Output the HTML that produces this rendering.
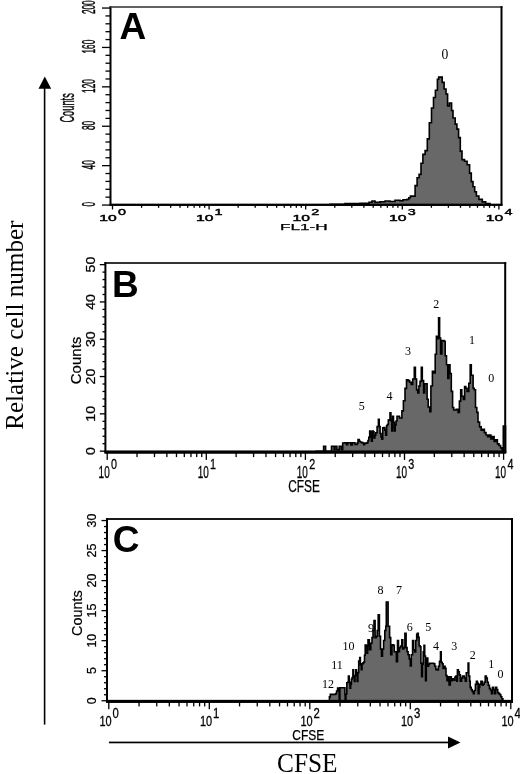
<!DOCTYPE html>
<html><head><meta charset="utf-8"><style>
html,body{margin:0;padding:0;background:#fff;}
svg{display:block;will-change:transform;}
</style></head><body>
<svg width="520" height="774" viewBox="0 0 520 774">
<rect width="520" height="774" fill="#fff"/>
<rect x="43.80" y="88.00" width="1.60" height="636.60" fill="#000"/>
<polygon points="38.5,88.8 51.2,88.8 44.8,76.6" fill="#000"/>
<rect x="108.90" y="741.60" width="341.10" height="1.70" fill="#000"/>
<polygon points="448,736.6 448,748.6 460.5,742.6" fill="#000"/>
<text x="23.10" y="429.80" font-size="25.2" font-family='"Liberation Serif", serif' font-weight="normal" text-anchor="start" fill="#000" textLength="209.30" lengthAdjust="spacingAndGlyphs" transform="rotate(-90 23.10 429.80)" >Relative cell number</text>
<text x="277.00" y="771.80" font-size="26.6" font-family='"Liberation Serif", serif' font-weight="normal" text-anchor="start" fill="#000" textLength="60.50" lengthAdjust="spacingAndGlyphs" >CFSE</text>
<path d="M330.00,204.80 L330.00,204.30 L345.00,204.30 L345.00,203.60 L360.00,203.60 L360.00,203.30 L369.00,203.30 L369.00,202.30 L372.00,202.30 L372.00,201.00 L375.00,201.00 L375.00,202.30 L380.00,202.30 L380.00,201.80 L385.00,201.80 L385.00,201.00 L390.00,201.00 L390.00,201.50 L395.00,201.50 L395.00,200.20 L400.00,200.20 L400.00,200.80 L403.00,200.80 L403.00,199.80 L407.10,199.80 L407.10,199.40 L408.80,199.40 L408.80,197.80 L410.40,197.80 L410.40,196.10 L415.10,196.10 L415.10,185.60 L417.10,185.60 L417.10,177.80 L419.10,177.80 L419.10,174.40 L421.00,174.40 L421.00,163.30 L422.90,163.30 L422.90,154.40 L425.10,154.40 L425.10,150.60 L427.30,150.60 L427.30,138.90 L429.30,138.90 L429.30,122.80 L431.50,122.80 L431.50,108.00 L433.50,108.00 L433.50,97.50 L435.40,97.50 L435.40,90.20 L437.40,90.20 L437.40,79.30 L438.70,79.30 L438.70,77.10 L442.20,77.10 L442.20,82.40 L444.10,82.40 L444.10,89.00 L446.00,89.00 L446.00,94.00 L447.60,94.00 L447.60,106.00 L449.40,106.00 L449.40,103.00 L451.60,103.00 L451.60,110.50 L453.00,110.50 L453.00,118.00 L455.20,118.00 L455.20,124.10 L456.90,124.10 L456.90,129.10 L458.60,129.10 L458.60,137.60 L460.30,137.60 L460.30,151.10 L462.00,151.10 L462.00,159.60 L464.50,159.60 L464.50,161.30 L467.10,161.30 L467.10,164.70 L469.60,164.70 L469.60,173.10 L471.30,173.10 L471.30,181.60 L473.00,181.60 L473.00,186.70 L474.70,186.70 L474.70,191.80 L476.40,191.80 L476.40,196.00 L478.90,196.00 L478.90,199.40 L482.30,199.40 L482.30,201.90 L485.70,201.90 L485.70,203.60 L490.00,203.60 L490.00,204.50 L490.00,204.80 Z" fill="#686868" stroke="#000" stroke-width="1.6" stroke-linejoin="miter"/>
<rect x="109.50" y="6.20" width="2.00" height="199.40" fill="#000"/>
<rect x="109.50" y="6.20" width="393.00" height="1.60" fill="#3c3c3c"/>
<rect x="500.50" y="6.20" width="2.00" height="199.40" fill="#000"/>
<rect x="109.50" y="203.65" width="393.00" height="2.30" fill="#000"/>
<rect x="102.00" y="204.40" width="8.50" height="1.30" fill="#000"/>
<text x="94.80" y="204.20" font-size="18.5" font-family='"Liberation Sans", sans-serif' font-weight="normal" text-anchor="middle" fill="#000" stroke="#000" stroke-width="0.45" textLength="4.60" lengthAdjust="spacingAndGlyphs" transform="rotate(-90 94.80 204.20)" >0</text>
<rect x="105.50" y="196.52" width="5.00" height="1.30" fill="#000"/>
<rect x="105.50" y="188.64" width="5.00" height="1.30" fill="#000"/>
<rect x="105.50" y="180.76" width="5.00" height="1.30" fill="#000"/>
<rect x="105.50" y="172.88" width="5.00" height="1.30" fill="#000"/>
<rect x="102.00" y="165.00" width="8.50" height="1.30" fill="#000"/>
<text x="94.80" y="164.80" font-size="18.5" font-family='"Liberation Sans", sans-serif' font-weight="normal" text-anchor="middle" fill="#000" stroke="#000" stroke-width="0.45" textLength="9.20" lengthAdjust="spacingAndGlyphs" transform="rotate(-90 94.80 164.80)" >40</text>
<rect x="105.50" y="157.12" width="5.00" height="1.30" fill="#000"/>
<rect x="105.50" y="149.24" width="5.00" height="1.30" fill="#000"/>
<rect x="105.50" y="141.36" width="5.00" height="1.30" fill="#000"/>
<rect x="105.50" y="133.48" width="5.00" height="1.30" fill="#000"/>
<rect x="102.00" y="125.60" width="8.50" height="1.30" fill="#000"/>
<text x="94.80" y="125.40" font-size="18.5" font-family='"Liberation Sans", sans-serif' font-weight="normal" text-anchor="middle" fill="#000" stroke="#000" stroke-width="0.45" textLength="9.20" lengthAdjust="spacingAndGlyphs" transform="rotate(-90 94.80 125.40)" >80</text>
<rect x="105.50" y="117.72" width="5.00" height="1.30" fill="#000"/>
<rect x="105.50" y="109.84" width="5.00" height="1.30" fill="#000"/>
<rect x="105.50" y="101.96" width="5.00" height="1.30" fill="#000"/>
<rect x="105.50" y="94.08" width="5.00" height="1.30" fill="#000"/>
<rect x="102.00" y="86.20" width="8.50" height="1.30" fill="#000"/>
<text x="94.80" y="86.00" font-size="18.5" font-family='"Liberation Sans", sans-serif' font-weight="normal" text-anchor="middle" fill="#000" stroke="#000" stroke-width="0.45" textLength="13.80" lengthAdjust="spacingAndGlyphs" transform="rotate(-90 94.80 86.00)" >120</text>
<rect x="105.50" y="78.32" width="5.00" height="1.30" fill="#000"/>
<rect x="105.50" y="70.44" width="5.00" height="1.30" fill="#000"/>
<rect x="105.50" y="62.56" width="5.00" height="1.30" fill="#000"/>
<rect x="105.50" y="54.68" width="5.00" height="1.30" fill="#000"/>
<rect x="102.00" y="46.80" width="8.50" height="1.30" fill="#000"/>
<text x="94.80" y="46.60" font-size="18.5" font-family='"Liberation Sans", sans-serif' font-weight="normal" text-anchor="middle" fill="#000" stroke="#000" stroke-width="0.45" textLength="13.80" lengthAdjust="spacingAndGlyphs" transform="rotate(-90 94.80 46.60)" >160</text>
<rect x="105.50" y="38.92" width="5.00" height="1.30" fill="#000"/>
<rect x="105.50" y="31.04" width="5.00" height="1.30" fill="#000"/>
<rect x="105.50" y="23.16" width="5.00" height="1.30" fill="#000"/>
<rect x="105.50" y="15.28" width="5.00" height="1.30" fill="#000"/>
<rect x="102.00" y="7.40" width="8.50" height="1.30" fill="#000"/>
<text x="94.80" y="7.20" font-size="18.5" font-family='"Liberation Sans", sans-serif' font-weight="normal" text-anchor="middle" fill="#000" stroke="#000" stroke-width="0.45" textLength="13.80" lengthAdjust="spacingAndGlyphs" transform="rotate(-90 94.80 7.20)" >200</text>
<text x="74.50" y="122.60" font-size="20" font-family='"Liberation Sans", sans-serif' font-weight="normal" text-anchor="start" fill="#000" stroke="#000" stroke-width="0.4" textLength="29.40" lengthAdjust="spacingAndGlyphs" transform="rotate(-90 74.50 122.60)" >Counts</text>
<rect x="111.85" y="204.80" width="1.30" height="4.70" fill="#000"/>
<rect x="140.93" y="204.80" width="1.30" height="3.00" fill="#000"/>
<rect x="157.94" y="204.80" width="1.30" height="3.00" fill="#000"/>
<rect x="170.01" y="204.80" width="1.30" height="3.00" fill="#000"/>
<rect x="179.37" y="204.80" width="1.30" height="3.00" fill="#000"/>
<rect x="187.02" y="204.80" width="1.30" height="3.00" fill="#000"/>
<rect x="193.49" y="204.80" width="1.30" height="3.00" fill="#000"/>
<rect x="199.09" y="204.80" width="1.30" height="3.00" fill="#000"/>
<rect x="204.03" y="204.80" width="1.30" height="3.00" fill="#000"/>
<text x="99.30" y="220.70" font-size="9.6" font-family='"Liberation Sans", sans-serif' font-weight="normal" text-anchor="start" fill="#000" stroke="#000" stroke-width="0.45" textLength="17.50" lengthAdjust="spacingAndGlyphs" >10</text>
<text x="118.00" y="215.30" font-size="9.4" font-family='"Liberation Sans", sans-serif' font-weight="normal" text-anchor="start" fill="#000" stroke="#000" stroke-width="0.45" textLength="8.00" lengthAdjust="spacingAndGlyphs" >0</text>
<rect x="208.45" y="204.80" width="1.30" height="4.70" fill="#000"/>
<rect x="237.53" y="204.80" width="1.30" height="3.00" fill="#000"/>
<rect x="254.54" y="204.80" width="1.30" height="3.00" fill="#000"/>
<rect x="266.61" y="204.80" width="1.30" height="3.00" fill="#000"/>
<rect x="275.97" y="204.80" width="1.30" height="3.00" fill="#000"/>
<rect x="283.62" y="204.80" width="1.30" height="3.00" fill="#000"/>
<rect x="290.09" y="204.80" width="1.30" height="3.00" fill="#000"/>
<rect x="295.69" y="204.80" width="1.30" height="3.00" fill="#000"/>
<rect x="300.63" y="204.80" width="1.30" height="3.00" fill="#000"/>
<text x="195.90" y="220.70" font-size="9.6" font-family='"Liberation Sans", sans-serif' font-weight="normal" text-anchor="start" fill="#000" stroke="#000" stroke-width="0.45" textLength="17.50" lengthAdjust="spacingAndGlyphs" >10</text>
<text x="214.60" y="215.30" font-size="9.4" font-family='"Liberation Sans", sans-serif' font-weight="normal" text-anchor="start" fill="#000" stroke="#000" stroke-width="0.45" textLength="8.00" lengthAdjust="spacingAndGlyphs" >1</text>
<rect x="305.05" y="204.80" width="1.30" height="4.70" fill="#000"/>
<rect x="334.13" y="204.80" width="1.30" height="3.00" fill="#000"/>
<rect x="351.14" y="204.80" width="1.30" height="3.00" fill="#000"/>
<rect x="363.21" y="204.80" width="1.30" height="3.00" fill="#000"/>
<rect x="372.57" y="204.80" width="1.30" height="3.00" fill="#000"/>
<rect x="380.22" y="204.80" width="1.30" height="3.00" fill="#000"/>
<rect x="386.69" y="204.80" width="1.30" height="3.00" fill="#000"/>
<rect x="392.29" y="204.80" width="1.30" height="3.00" fill="#000"/>
<rect x="397.23" y="204.80" width="1.30" height="3.00" fill="#000"/>
<text x="292.50" y="220.70" font-size="9.6" font-family='"Liberation Sans", sans-serif' font-weight="normal" text-anchor="start" fill="#000" stroke="#000" stroke-width="0.45" textLength="17.50" lengthAdjust="spacingAndGlyphs" >10</text>
<text x="311.20" y="215.30" font-size="9.4" font-family='"Liberation Sans", sans-serif' font-weight="normal" text-anchor="start" fill="#000" stroke="#000" stroke-width="0.45" textLength="8.00" lengthAdjust="spacingAndGlyphs" >2</text>
<rect x="401.65" y="204.80" width="1.30" height="4.70" fill="#000"/>
<rect x="430.73" y="204.80" width="1.30" height="3.00" fill="#000"/>
<rect x="447.74" y="204.80" width="1.30" height="3.00" fill="#000"/>
<rect x="459.81" y="204.80" width="1.30" height="3.00" fill="#000"/>
<rect x="469.17" y="204.80" width="1.30" height="3.00" fill="#000"/>
<rect x="476.82" y="204.80" width="1.30" height="3.00" fill="#000"/>
<rect x="483.29" y="204.80" width="1.30" height="3.00" fill="#000"/>
<rect x="488.89" y="204.80" width="1.30" height="3.00" fill="#000"/>
<rect x="493.83" y="204.80" width="1.30" height="3.00" fill="#000"/>
<text x="389.10" y="220.70" font-size="9.6" font-family='"Liberation Sans", sans-serif' font-weight="normal" text-anchor="start" fill="#000" stroke="#000" stroke-width="0.45" textLength="17.50" lengthAdjust="spacingAndGlyphs" >10</text>
<text x="407.80" y="215.30" font-size="9.4" font-family='"Liberation Sans", sans-serif' font-weight="normal" text-anchor="start" fill="#000" stroke="#000" stroke-width="0.45" textLength="8.00" lengthAdjust="spacingAndGlyphs" >3</text>
<rect x="498.25" y="204.80" width="1.30" height="4.70" fill="#000"/>
<text x="485.70" y="220.70" font-size="9.6" font-family='"Liberation Sans", sans-serif' font-weight="normal" text-anchor="start" fill="#000" stroke="#000" stroke-width="0.45" textLength="17.50" lengthAdjust="spacingAndGlyphs" >10</text>
<text x="504.40" y="215.30" font-size="9.4" font-family='"Liberation Sans", sans-serif' font-weight="normal" text-anchor="start" fill="#000" stroke="#000" stroke-width="0.45" textLength="8.00" lengthAdjust="spacingAndGlyphs" >4</text>
<text x="280.00" y="230.40" font-size="8.7" font-family='"Liberation Sans", sans-serif' font-weight="normal" text-anchor="start" fill="#000" stroke="#000" stroke-width="0.25" textLength="47.70" lengthAdjust="spacingAndGlyphs" >FL1-H</text>
<text x="119.40" y="39.20" font-size="37" font-family='"Liberation Sans", sans-serif' font-weight="bold" text-anchor="start" fill="#000" >A</text>
<text x="445.00" y="58.60" font-size="13.6" font-family='"Liberation Serif", serif' font-weight="normal" text-anchor="middle" fill="#000" >0</text>
<path d="M316.00,452.10 L316.00,451.20 L323.60,451.20 L323.60,446.20 L325.60,446.20 L325.60,451.20 L331.50,451.20 L331.50,446.20 L334.20,446.20 L334.20,449.60 L335.00,449.60 L335.00,446.20 L336.90,446.20 L336.90,449.60 L339.20,449.60 L339.20,446.20 L341.20,446.20 L341.20,449.60 L342.70,449.60 L342.70,443.00 L344.60,443.00 L344.60,442.70 L346.50,442.70 L346.50,444.80 L347.70,444.80 L347.70,442.70 L350.80,442.70 L350.80,445.00 L352.30,445.00 L352.30,442.70 L355.00,442.70 L355.00,444.40 L357.20,444.40 L357.20,443.10 L358.00,443.10 L358.00,439.60 L359.30,439.60 L359.30,441.30 L360.20,441.30 L360.20,442.00 L361.50,442.00 L361.50,442.60 L362.80,442.60 L362.80,443.00 L363.70,443.00 L363.70,444.80 L364.50,444.80 L364.50,443.50 L365.40,443.50 L365.40,443.10 L367.10,443.10 L367.10,442.60 L368.00,442.60 L368.00,440.50 L368.80,440.50 L368.80,437.40 L369.70,437.40 L369.70,431.00 L370.60,431.00 L370.60,433.50 L371.40,433.50 L371.40,441.30 L372.30,441.30 L372.30,431.00 L373.20,431.00 L373.20,431.80 L374.00,431.80 L374.00,437.90 L374.90,437.90 L374.90,435.30 L375.80,435.30 L375.80,432.70 L377.10,432.70 L377.10,426.60 L378.40,426.60 L378.40,419.30 L379.20,419.30 L379.20,426.60 L380.10,426.60 L380.10,433.50 L381.00,433.50 L381.00,437.00 L381.80,437.00 L381.80,439.20 L382.70,439.20 L382.70,427.90 L384.00,427.90 L384.00,427.50 L384.80,427.50 L384.80,430.10 L385.70,430.10 L385.70,435.30 L386.60,435.30 L386.60,425.80 L387.40,425.80 L387.40,424.50 L388.30,424.50 L388.30,420.10 L389.20,420.10 L389.20,419.70 L390.00,419.70 L390.00,412.80 L390.90,412.80 L390.90,420.60 L391.80,420.60 L391.80,431.00 L392.60,431.00 L392.60,416.20 L393.50,416.20 L393.50,422.30 L394.40,422.30 L394.40,431.00 L395.20,431.00 L395.20,424.90 L396.10,424.90 L396.10,421.00 L397.00,421.00 L397.00,416.20 L399.50,416.20 L399.50,418.00 L401.90,418.00 L401.90,410.90 L403.40,410.90 L403.40,400.80 L405.00,400.80 L405.00,388.40 L406.50,388.40 L406.50,379.80 L408.10,379.80 L408.10,380.60 L409.60,380.60 L409.60,382.20 L411.20,382.20 L411.20,384.50 L412.70,384.50 L412.70,379.00 L414.30,379.00 L414.30,367.40 L415.40,367.40 L415.40,379.00 L416.60,379.00 L416.60,389.90 L417.80,389.90 L417.80,393.00 L418.90,393.00 L418.90,386.00 L420.00,386.00 L420.00,381.40 L421.30,381.40 L421.30,367.40 L422.30,367.40 L422.30,380.60 L423.60,380.60 L423.60,393.00 L424.70,393.00 L424.70,383.70 L425.90,383.70 L425.90,383.70 L427.10,383.70 L427.10,399.20 L428.20,399.20 L428.20,407.00 L429.80,407.00 L429.80,411.60 L430.90,411.60 L430.90,386.00 L432.40,386.00 L432.40,371.30 L434.00,371.30 L434.00,372.90 L435.20,372.90 L435.20,354.30 L436.40,354.30 L436.40,336.40 L437.50,336.40 L437.50,338.80 L438.60,338.80 L438.60,317.80 L439.60,317.80 L439.60,338.00 L440.60,338.00 L440.60,354.00 L441.90,354.00 L441.90,340.50 L444.00,340.50 L444.00,341.30 L445.20,341.30 L445.20,355.80 L446.50,355.80 L446.50,364.70 L447.80,364.70 L447.80,378.50 L448.90,378.50 L448.90,364.70 L450.00,364.70 L450.00,373.60 L451.30,373.60 L451.30,391.40 L452.60,391.40 L452.60,407.50 L453.70,407.50 L453.70,410.00 L456.20,410.00 L456.20,409.20 L458.10,409.20 L458.10,412.40 L459.40,412.40 L459.40,401.10 L460.70,401.10 L460.70,389.80 L461.80,389.80 L461.80,396.20 L463.40,396.20 L463.40,399.50 L464.60,399.50 L464.60,386.50 L465.80,386.50 L465.80,388.20 L467.10,388.20 L467.10,391.40 L468.80,391.40 L468.80,383.30 L470.20,383.30 L470.20,364.70 L471.30,364.70 L471.30,375.20 L473.10,375.20 L473.10,388.20 L474.20,388.20 L474.20,389.80 L475.50,389.80 L475.50,407.50 L476.80,407.50 L476.80,412.40 L478.00,412.40 L478.00,422.10 L479.60,422.10 L479.60,426.90 L481.20,426.90 L481.20,430.20 L482.80,430.20 L482.80,429.40 L484.40,429.40 L484.40,432.60 L486.00,432.60 L486.00,435.00 L487.70,435.00 L487.70,436.60 L489.30,436.60 L489.30,435.00 L490.90,435.00 L490.90,439.00 L492.50,439.00 L492.50,436.60 L494.10,436.60 L494.10,441.50 L495.70,441.50 L495.70,439.90 L497.40,439.90 L497.40,443.90 L499.00,443.90 L499.00,445.50 L500.60,445.50 L500.60,447.90 L502.20,447.90 L502.20,451.20 L503.30,451.20 L503.30,426.10 L505.50,426.10 L505.50,426.10 L505.50,452.10 Z" fill="#686868" stroke="#000" stroke-width="1.6" stroke-linejoin="miter"/>
<rect x="104.40" y="262.20" width="2.00" height="190.70" fill="#000"/>
<rect x="104.40" y="262.20" width="401.80" height="1.60" fill="#000"/>
<rect x="504.20" y="262.20" width="2.00" height="190.70" fill="#000"/>
<rect x="104.40" y="450.45" width="401.80" height="3.30" fill="#000"/>
<rect x="99.80" y="450.50" width="5.60" height="1.30" fill="#000"/>
<text x="94.80" y="451.10" font-size="13.3" font-family='"Liberation Sans", sans-serif' font-weight="normal" text-anchor="middle" fill="#000" stroke="#000" stroke-width="0.25" textLength="7.90" lengthAdjust="spacingAndGlyphs" transform="rotate(-90 94.80 451.10)" >0</text>
<rect x="102.50" y="443.04" width="2.90" height="1.30" fill="#000"/>
<rect x="102.50" y="435.58" width="2.90" height="1.30" fill="#000"/>
<rect x="102.50" y="428.12" width="2.90" height="1.30" fill="#000"/>
<rect x="102.50" y="420.66" width="2.90" height="1.30" fill="#000"/>
<rect x="99.80" y="413.20" width="5.60" height="1.30" fill="#000"/>
<text x="94.80" y="413.80" font-size="13.3" font-family='"Liberation Sans", sans-serif' font-weight="normal" text-anchor="middle" fill="#000" stroke="#000" stroke-width="0.25" textLength="15.80" lengthAdjust="spacingAndGlyphs" transform="rotate(-90 94.80 413.80)" >10</text>
<rect x="102.50" y="405.74" width="2.90" height="1.30" fill="#000"/>
<rect x="102.50" y="398.28" width="2.90" height="1.30" fill="#000"/>
<rect x="102.50" y="390.82" width="2.90" height="1.30" fill="#000"/>
<rect x="102.50" y="383.36" width="2.90" height="1.30" fill="#000"/>
<rect x="99.80" y="375.90" width="5.60" height="1.30" fill="#000"/>
<text x="94.80" y="376.50" font-size="13.3" font-family='"Liberation Sans", sans-serif' font-weight="normal" text-anchor="middle" fill="#000" stroke="#000" stroke-width="0.25" textLength="15.80" lengthAdjust="spacingAndGlyphs" transform="rotate(-90 94.80 376.50)" >20</text>
<rect x="102.50" y="368.44" width="2.90" height="1.30" fill="#000"/>
<rect x="102.50" y="360.98" width="2.90" height="1.30" fill="#000"/>
<rect x="102.50" y="353.52" width="2.90" height="1.30" fill="#000"/>
<rect x="102.50" y="346.06" width="2.90" height="1.30" fill="#000"/>
<rect x="99.80" y="338.60" width="5.60" height="1.30" fill="#000"/>
<text x="94.80" y="339.20" font-size="13.3" font-family='"Liberation Sans", sans-serif' font-weight="normal" text-anchor="middle" fill="#000" stroke="#000" stroke-width="0.25" textLength="15.80" lengthAdjust="spacingAndGlyphs" transform="rotate(-90 94.80 339.20)" >30</text>
<rect x="102.50" y="331.14" width="2.90" height="1.30" fill="#000"/>
<rect x="102.50" y="323.68" width="2.90" height="1.30" fill="#000"/>
<rect x="102.50" y="316.22" width="2.90" height="1.30" fill="#000"/>
<rect x="102.50" y="308.76" width="2.90" height="1.30" fill="#000"/>
<rect x="99.80" y="301.30" width="5.60" height="1.30" fill="#000"/>
<text x="94.80" y="301.90" font-size="13.3" font-family='"Liberation Sans", sans-serif' font-weight="normal" text-anchor="middle" fill="#000" stroke="#000" stroke-width="0.25" textLength="15.80" lengthAdjust="spacingAndGlyphs" transform="rotate(-90 94.80 301.90)" >40</text>
<rect x="102.50" y="293.84" width="2.90" height="1.30" fill="#000"/>
<rect x="102.50" y="286.38" width="2.90" height="1.30" fill="#000"/>
<rect x="102.50" y="278.92" width="2.90" height="1.30" fill="#000"/>
<rect x="102.50" y="271.46" width="2.90" height="1.30" fill="#000"/>
<rect x="99.80" y="264.00" width="5.60" height="1.30" fill="#000"/>
<text x="94.80" y="264.60" font-size="13.3" font-family='"Liberation Sans", sans-serif' font-weight="normal" text-anchor="middle" fill="#000" stroke="#000" stroke-width="0.25" textLength="15.80" lengthAdjust="spacingAndGlyphs" transform="rotate(-90 94.80 264.60)" >50</text>
<text x="81.30" y="384.20" font-size="14" font-family='"Liberation Sans", sans-serif' font-weight="normal" text-anchor="start" fill="#000" stroke="#000" stroke-width="0.2" textLength="47.50" lengthAdjust="spacingAndGlyphs" transform="rotate(-90 81.30 384.20)" >Counts</text>
<rect x="106.55" y="452.10" width="1.30" height="7.80" fill="#000"/>
<rect x="136.38" y="452.10" width="1.30" height="5.00" fill="#000"/>
<rect x="153.83" y="452.10" width="1.30" height="5.00" fill="#000"/>
<rect x="166.21" y="452.10" width="1.30" height="5.00" fill="#000"/>
<rect x="175.82" y="452.10" width="1.30" height="5.00" fill="#000"/>
<rect x="183.66" y="452.10" width="1.30" height="5.00" fill="#000"/>
<rect x="190.30" y="452.10" width="1.30" height="5.00" fill="#000"/>
<rect x="196.05" y="452.10" width="1.30" height="5.00" fill="#000"/>
<rect x="201.12" y="452.10" width="1.30" height="5.00" fill="#000"/>
<text x="98.60" y="477.60" font-size="16.5" font-family='"Liberation Sans", sans-serif' font-weight="normal" text-anchor="start" fill="#000" stroke="#000" stroke-width="0.3" textLength="11.10" lengthAdjust="spacingAndGlyphs" >10</text>
<text x="111.00" y="468.50" font-size="15" font-family='"Liberation Sans", sans-serif' font-weight="normal" text-anchor="start" fill="#000" stroke="#000" stroke-width="0.3" textLength="6.00" lengthAdjust="spacingAndGlyphs" >0</text>
<rect x="205.65" y="452.10" width="1.30" height="7.80" fill="#000"/>
<rect x="235.48" y="452.10" width="1.30" height="5.00" fill="#000"/>
<rect x="252.93" y="452.10" width="1.30" height="5.00" fill="#000"/>
<rect x="265.31" y="452.10" width="1.30" height="5.00" fill="#000"/>
<rect x="274.92" y="452.10" width="1.30" height="5.00" fill="#000"/>
<rect x="282.76" y="452.10" width="1.30" height="5.00" fill="#000"/>
<rect x="289.40" y="452.10" width="1.30" height="5.00" fill="#000"/>
<rect x="295.15" y="452.10" width="1.30" height="5.00" fill="#000"/>
<rect x="300.22" y="452.10" width="1.30" height="5.00" fill="#000"/>
<text x="197.70" y="477.60" font-size="16.5" font-family='"Liberation Sans", sans-serif' font-weight="normal" text-anchor="start" fill="#000" stroke="#000" stroke-width="0.3" textLength="11.10" lengthAdjust="spacingAndGlyphs" >10</text>
<text x="210.10" y="468.50" font-size="15" font-family='"Liberation Sans", sans-serif' font-weight="normal" text-anchor="start" fill="#000" stroke="#000" stroke-width="0.3" textLength="6.00" lengthAdjust="spacingAndGlyphs" >1</text>
<rect x="304.75" y="452.10" width="1.30" height="7.80" fill="#000"/>
<rect x="334.58" y="452.10" width="1.30" height="5.00" fill="#000"/>
<rect x="352.03" y="452.10" width="1.30" height="5.00" fill="#000"/>
<rect x="364.41" y="452.10" width="1.30" height="5.00" fill="#000"/>
<rect x="374.02" y="452.10" width="1.30" height="5.00" fill="#000"/>
<rect x="381.86" y="452.10" width="1.30" height="5.00" fill="#000"/>
<rect x="388.50" y="452.10" width="1.30" height="5.00" fill="#000"/>
<rect x="394.25" y="452.10" width="1.30" height="5.00" fill="#000"/>
<rect x="399.32" y="452.10" width="1.30" height="5.00" fill="#000"/>
<text x="296.80" y="477.60" font-size="16.5" font-family='"Liberation Sans", sans-serif' font-weight="normal" text-anchor="start" fill="#000" stroke="#000" stroke-width="0.3" textLength="11.10" lengthAdjust="spacingAndGlyphs" >10</text>
<text x="309.20" y="468.50" font-size="15" font-family='"Liberation Sans", sans-serif' font-weight="normal" text-anchor="start" fill="#000" stroke="#000" stroke-width="0.3" textLength="6.00" lengthAdjust="spacingAndGlyphs" >2</text>
<rect x="403.85" y="452.10" width="1.30" height="7.80" fill="#000"/>
<rect x="433.68" y="452.10" width="1.30" height="5.00" fill="#000"/>
<rect x="451.13" y="452.10" width="1.30" height="5.00" fill="#000"/>
<rect x="463.51" y="452.10" width="1.30" height="5.00" fill="#000"/>
<rect x="473.12" y="452.10" width="1.30" height="5.00" fill="#000"/>
<rect x="480.96" y="452.10" width="1.30" height="5.00" fill="#000"/>
<rect x="487.60" y="452.10" width="1.30" height="5.00" fill="#000"/>
<rect x="493.35" y="452.10" width="1.30" height="5.00" fill="#000"/>
<rect x="498.42" y="452.10" width="1.30" height="5.00" fill="#000"/>
<text x="395.90" y="477.60" font-size="16.5" font-family='"Liberation Sans", sans-serif' font-weight="normal" text-anchor="start" fill="#000" stroke="#000" stroke-width="0.3" textLength="11.10" lengthAdjust="spacingAndGlyphs" >10</text>
<text x="408.30" y="468.50" font-size="15" font-family='"Liberation Sans", sans-serif' font-weight="normal" text-anchor="start" fill="#000" stroke="#000" stroke-width="0.3" textLength="6.00" lengthAdjust="spacingAndGlyphs" >3</text>
<rect x="502.95" y="452.10" width="1.30" height="7.80" fill="#000"/>
<text x="495.00" y="477.60" font-size="16.5" font-family='"Liberation Sans", sans-serif' font-weight="normal" text-anchor="start" fill="#000" stroke="#000" stroke-width="0.3" textLength="11.10" lengthAdjust="spacingAndGlyphs" >10</text>
<text x="507.40" y="468.50" font-size="15" font-family='"Liberation Sans", sans-serif' font-weight="normal" text-anchor="start" fill="#000" stroke="#000" stroke-width="0.3" textLength="6.00" lengthAdjust="spacingAndGlyphs" >4</text>
<text x="288.20" y="492.20" font-size="16" font-family='"Liberation Sans", sans-serif' font-weight="normal" text-anchor="start" fill="#000" stroke="#000" stroke-width="0.25" textLength="31.70" lengthAdjust="spacingAndGlyphs" >CFSE</text>
<text x="112.00" y="297.40" font-size="37" font-family='"Liberation Sans", sans-serif' font-weight="bold" text-anchor="start" fill="#000" >B</text>
<text x="361.85" y="409.80" font-size="12" font-family='"Liberation Serif", serif' font-weight="normal" text-anchor="middle" fill="#000" >5</text>
<text x="389.40" y="400.20" font-size="12" font-family='"Liberation Serif", serif' font-weight="normal" text-anchor="middle" fill="#000" >4</text>
<text x="408.10" y="354.80" font-size="12" font-family='"Liberation Serif", serif' font-weight="normal" text-anchor="middle" fill="#000" >3</text>
<text x="436.30" y="308.30" font-size="12" font-family='"Liberation Serif", serif' font-weight="normal" text-anchor="middle" fill="#000" >2</text>
<text x="472.00" y="344.40" font-size="12" font-family='"Liberation Serif", serif' font-weight="normal" text-anchor="middle" fill="#000" >1</text>
<text x="491.15" y="381.60" font-size="12" font-family='"Liberation Serif", serif' font-weight="normal" text-anchor="middle" fill="#000" >0</text>
<path d="M320.00,701.40 L320.00,701.20 L329.40,701.20 L329.40,696.90 L330.30,696.90 L330.30,694.40 L335.70,694.40 L335.70,693.50 L336.60,693.50 L336.60,691.00 L337.60,691.00 L337.60,688.10 L339.20,688.10 L339.20,701.20 L339.90,701.20 L339.90,687.70 L344.90,687.70 L344.90,694.40 L345.20,694.40 L345.20,701.20 L345.90,701.20 L345.90,694.00 L346.80,694.00 L346.80,682.80 L347.80,682.80 L347.80,682.30 L348.40,682.30 L348.40,676.00 L349.20,676.00 L349.20,682.30 L350.00,682.30 L350.00,688.10 L350.70,688.10 L350.70,684.30 L351.40,684.30 L351.40,679.40 L352.10,679.40 L352.10,677.50 L352.90,677.50 L352.90,669.70 L353.60,669.70 L353.60,676.50 L354.30,676.50 L354.30,681.40 L355.00,681.40 L355.00,675.50 L355.80,675.50 L355.80,669.70 L356.50,669.70 L356.50,675.50 L357.20,675.50 L357.20,681.40 L357.90,681.40 L357.90,672.60 L358.70,672.60 L358.70,661.00 L359.70,661.00 L359.70,657.60 L360.40,657.60 L360.40,664.90 L361.30,664.90 L361.30,669.70 L362.00,669.70 L362.00,663.90 L363.00,663.90 L363.00,662.90 L363.80,662.90 L363.80,662.00 L364.50,662.00 L364.50,655.20 L365.20,655.20 L365.20,645.00 L366.20,645.00 L366.20,646.00 L366.90,646.00 L366.90,653.30 L367.60,653.30 L367.60,645.50 L368.00,645.50 L368.00,639.70 L369.40,639.70 L369.40,649.70 L370.80,649.70 L370.80,643.30 L372.00,643.30 L372.00,637.60 L373.00,637.60 L373.00,630.50 L374.00,630.50 L374.00,620.60 L375.10,620.60 L375.10,637.60 L376.20,637.60 L376.20,636.20 L377.20,636.20 L377.20,630.50 L378.20,630.50 L378.20,614.90 L379.40,614.90 L379.40,636.20 L380.50,636.20 L380.50,649.00 L381.50,649.00 L381.50,656.10 L382.50,656.10 L382.50,649.00 L383.60,649.00 L383.60,640.50 L384.80,640.50 L384.80,630.50 L385.80,630.50 L385.80,626.30 L386.30,626.30 L386.30,602.10 L388.10,602.10 L388.10,626.30 L389.60,626.30 L389.60,637.60 L390.70,637.60 L390.70,654.70 L391.90,654.70 L391.90,644.70 L393.30,644.70 L393.30,645.40 L394.30,645.40 L394.30,651.80 L396.40,651.80 L396.40,661.80 L397.50,661.80 L397.50,640.50 L398.50,640.50 L398.50,651.80 L399.50,651.80 L399.50,647.60 L400.70,647.60 L400.70,646.10 L401.80,646.10 L401.80,639.70 L402.80,639.70 L402.80,649.00 L403.80,649.00 L403.80,647.60 L404.90,647.60 L404.90,633.40 L406.10,633.40 L406.10,647.60 L407.10,647.60 L407.10,651.80 L408.10,651.80 L408.10,654.70 L409.20,654.70 L409.20,658.90 L410.30,658.90 L410.30,666.00 L411.30,666.00 L411.30,654.70 L412.60,654.70 L412.60,640.50 L413.60,640.50 L413.60,649.80 L414.70,649.80 L414.70,651.90 L415.70,651.90 L415.70,640.50 L416.70,640.50 L416.70,634.30 L417.40,634.30 L417.40,633.30 L418.30,633.30 L418.30,637.40 L419.10,637.40 L419.10,645.70 L420.10,645.70 L420.10,646.70 L420.90,646.70 L420.90,663.20 L421.60,663.20 L421.60,676.70 L422.40,676.70 L422.40,664.30 L423.20,664.30 L423.20,651.90 L424.00,651.90 L424.00,645.20 L424.70,645.20 L424.70,656.00 L425.50,656.00 L425.50,680.80 L426.30,680.80 L426.30,664.30 L427.10,664.30 L427.10,658.10 L427.80,658.10 L427.80,666.30 L428.60,666.30 L428.60,664.30 L429.60,664.30 L429.60,663.20 L433.80,663.20 L433.80,663.80 L434.80,663.80 L434.80,666.30 L435.80,666.30 L435.80,669.40 L437.10,669.40 L437.10,670.00 L438.40,670.00 L438.40,666.30 L439.50,666.30 L439.50,661.20 L440.50,661.20 L440.50,651.90 L441.20,651.90 L441.20,662.20 L442.20,662.20 L442.20,663.80 L443.10,663.80 L443.10,668.40 L444.10,668.40 L444.10,666.30 L445.10,666.30 L445.10,668.40 L446.00,668.40 L446.00,675.60 L447.00,675.60 L447.00,680.80 L448.00,680.80 L448.00,676.70 L449.10,676.70 L449.10,685.00 L450.30,685.00 L450.30,676.70 L451.30,676.70 L451.30,680.80 L452.40,680.80 L452.40,678.70 L453.40,678.70 L453.40,679.80 L454.40,679.80 L454.40,680.10 L454.90,680.10 L454.90,677.00 L455.90,677.00 L455.90,676.00 L456.70,676.00 L456.70,681.20 L457.40,681.20 L457.40,669.70 L458.40,669.70 L458.40,671.80 L459.30,671.80 L459.30,674.90 L460.30,674.90 L460.30,681.20 L461.60,681.20 L461.60,678.00 L462.40,678.00 L462.40,676.00 L464.30,676.00 L464.30,678.00 L465.30,678.00 L465.30,681.20 L466.30,681.20 L466.30,672.80 L468.10,672.80 L468.10,663.00 L468.80,663.00 L468.80,676.00 L469.70,676.00 L469.70,681.20 L470.20,681.20 L470.20,687.40 L471.20,687.40 L471.20,689.50 L472.20,689.50 L472.20,691.50 L473.30,691.50 L473.30,693.60 L474.30,693.60 L474.30,690.50 L475.40,690.50 L475.40,684.30 L476.40,684.30 L476.40,681.20 L477.40,681.20 L477.40,683.20 L478.20,683.20 L478.20,693.60 L479.00,693.60 L479.00,687.40 L479.80,687.40 L479.80,684.30 L480.90,684.30 L480.90,681.20 L482.30,681.20 L482.30,685.30 L483.20,685.30 L483.20,684.30 L484.20,684.30 L484.20,682.20 L485.20,682.20 L485.20,676.00 L486.30,676.00 L486.30,678.00 L487.30,678.00 L487.30,682.20 L488.30,682.20 L488.30,685.30 L489.40,685.30 L489.40,688.40 L490.40,688.40 L490.40,690.00 L491.50,690.00 L491.50,693.60 L492.50,693.60 L492.50,687.40 L493.50,687.40 L493.50,689.50 L494.60,689.50 L494.60,693.60 L495.60,693.60 L495.60,687.40 L496.70,687.40 L496.70,689.50 L497.70,689.50 L497.70,692.60 L498.70,692.60 L498.70,693.60 L499.80,693.60 L499.80,694.70 L500.80,694.70 L500.80,696.70 L501.80,696.70 L501.80,698.80 L502.90,698.80 L502.90,700.90 L503.90,700.90 L503.90,701.20 L503.90,701.40 Z" fill="#686868" stroke="#000" stroke-width="1.6" stroke-linejoin="miter"/>
<rect x="106.00" y="518.10" width="2.00" height="184.20" fill="#000"/>
<rect x="106.00" y="518.10" width="407.00" height="1.80" fill="#000"/>
<rect x="511.00" y="518.10" width="2.00" height="184.20" fill="#000"/>
<rect x="106.00" y="699.85" width="407.00" height="3.10" fill="#000"/>
<rect x="101.50" y="700.10" width="5.50" height="1.30" fill="#000"/>
<text x="96.20" y="700.70" font-size="13.3" font-family='"Liberation Sans", sans-serif' font-weight="normal" text-anchor="middle" fill="#000" stroke="#000" stroke-width="0.25" textLength="6.90" lengthAdjust="spacingAndGlyphs" transform="rotate(-90 96.20 700.70)" >0</text>
<rect x="104.00" y="694.09" width="3.00" height="1.30" fill="#000"/>
<rect x="104.00" y="688.09" width="3.00" height="1.30" fill="#000"/>
<rect x="104.00" y="682.08" width="3.00" height="1.30" fill="#000"/>
<rect x="104.00" y="676.07" width="3.00" height="1.30" fill="#000"/>
<rect x="101.50" y="670.07" width="5.50" height="1.30" fill="#000"/>
<text x="96.20" y="670.67" font-size="13.3" font-family='"Liberation Sans", sans-serif' font-weight="normal" text-anchor="middle" fill="#000" stroke="#000" stroke-width="0.25" textLength="6.90" lengthAdjust="spacingAndGlyphs" transform="rotate(-90 96.20 670.67)" >5</text>
<rect x="104.00" y="664.06" width="3.00" height="1.30" fill="#000"/>
<rect x="104.00" y="658.05" width="3.00" height="1.30" fill="#000"/>
<rect x="104.00" y="652.05" width="3.00" height="1.30" fill="#000"/>
<rect x="104.00" y="646.04" width="3.00" height="1.30" fill="#000"/>
<rect x="101.50" y="640.03" width="5.50" height="1.30" fill="#000"/>
<text x="96.20" y="640.63" font-size="13.3" font-family='"Liberation Sans", sans-serif' font-weight="normal" text-anchor="middle" fill="#000" stroke="#000" stroke-width="0.25" textLength="13.80" lengthAdjust="spacingAndGlyphs" transform="rotate(-90 96.20 640.63)" >10</text>
<rect x="104.00" y="634.03" width="3.00" height="1.30" fill="#000"/>
<rect x="104.00" y="628.02" width="3.00" height="1.30" fill="#000"/>
<rect x="104.00" y="622.01" width="3.00" height="1.30" fill="#000"/>
<rect x="104.00" y="616.01" width="3.00" height="1.30" fill="#000"/>
<rect x="101.50" y="610.00" width="5.50" height="1.30" fill="#000"/>
<text x="96.20" y="610.60" font-size="13.3" font-family='"Liberation Sans", sans-serif' font-weight="normal" text-anchor="middle" fill="#000" stroke="#000" stroke-width="0.25" textLength="13.80" lengthAdjust="spacingAndGlyphs" transform="rotate(-90 96.20 610.60)" >15</text>
<rect x="104.00" y="603.99" width="3.00" height="1.30" fill="#000"/>
<rect x="104.00" y="597.99" width="3.00" height="1.30" fill="#000"/>
<rect x="104.00" y="591.98" width="3.00" height="1.30" fill="#000"/>
<rect x="104.00" y="585.97" width="3.00" height="1.30" fill="#000"/>
<rect x="101.50" y="579.97" width="5.50" height="1.30" fill="#000"/>
<text x="96.20" y="580.57" font-size="13.3" font-family='"Liberation Sans", sans-serif' font-weight="normal" text-anchor="middle" fill="#000" stroke="#000" stroke-width="0.25" textLength="13.80" lengthAdjust="spacingAndGlyphs" transform="rotate(-90 96.20 580.57)" >20</text>
<rect x="104.00" y="573.96" width="3.00" height="1.30" fill="#000"/>
<rect x="104.00" y="567.95" width="3.00" height="1.30" fill="#000"/>
<rect x="104.00" y="561.95" width="3.00" height="1.30" fill="#000"/>
<rect x="104.00" y="555.94" width="3.00" height="1.30" fill="#000"/>
<rect x="101.50" y="549.93" width="5.50" height="1.30" fill="#000"/>
<text x="96.20" y="550.53" font-size="13.3" font-family='"Liberation Sans", sans-serif' font-weight="normal" text-anchor="middle" fill="#000" stroke="#000" stroke-width="0.25" textLength="13.80" lengthAdjust="spacingAndGlyphs" transform="rotate(-90 96.20 550.53)" >25</text>
<rect x="104.00" y="543.93" width="3.00" height="1.30" fill="#000"/>
<rect x="104.00" y="537.92" width="3.00" height="1.30" fill="#000"/>
<rect x="104.00" y="531.91" width="3.00" height="1.30" fill="#000"/>
<rect x="104.00" y="525.91" width="3.00" height="1.30" fill="#000"/>
<rect x="101.50" y="519.90" width="5.50" height="1.30" fill="#000"/>
<text x="96.20" y="520.50" font-size="13.3" font-family='"Liberation Sans", sans-serif' font-weight="normal" text-anchor="middle" fill="#000" stroke="#000" stroke-width="0.25" textLength="13.80" lengthAdjust="spacingAndGlyphs" transform="rotate(-90 96.20 520.50)" >30</text>
<text x="81.70" y="636.00" font-size="14" font-family='"Liberation Sans", sans-serif' font-weight="normal" text-anchor="start" fill="#000" stroke="#000" stroke-width="0.2" textLength="45.60" lengthAdjust="spacingAndGlyphs" transform="rotate(-90 81.70 636.00)" >Counts</text>
<rect x="108.15" y="701.40" width="1.30" height="7.80" fill="#000"/>
<rect x="138.40" y="701.40" width="1.30" height="5.00" fill="#000"/>
<rect x="156.10" y="701.40" width="1.30" height="5.00" fill="#000"/>
<rect x="168.66" y="701.40" width="1.30" height="5.00" fill="#000"/>
<rect x="178.40" y="701.40" width="1.30" height="5.00" fill="#000"/>
<rect x="186.35" y="701.40" width="1.30" height="5.00" fill="#000"/>
<rect x="193.08" y="701.40" width="1.30" height="5.00" fill="#000"/>
<rect x="198.91" y="701.40" width="1.30" height="5.00" fill="#000"/>
<rect x="204.05" y="701.40" width="1.30" height="5.00" fill="#000"/>
<text x="99.40" y="726.20" font-size="15.5" font-family='"Liberation Sans", sans-serif' font-weight="normal" text-anchor="start" fill="#000" stroke="#000" stroke-width="0.3" textLength="12.20" lengthAdjust="spacingAndGlyphs" >10</text>
<text x="112.50" y="718.10" font-size="15" font-family='"Liberation Sans", sans-serif' font-weight="normal" text-anchor="start" fill="#000" stroke="#000" stroke-width="0.3" textLength="6.30" lengthAdjust="spacingAndGlyphs" >0</text>
<rect x="208.65" y="701.40" width="1.30" height="7.80" fill="#000"/>
<rect x="238.90" y="701.40" width="1.30" height="5.00" fill="#000"/>
<rect x="256.60" y="701.40" width="1.30" height="5.00" fill="#000"/>
<rect x="269.16" y="701.40" width="1.30" height="5.00" fill="#000"/>
<rect x="278.90" y="701.40" width="1.30" height="5.00" fill="#000"/>
<rect x="286.85" y="701.40" width="1.30" height="5.00" fill="#000"/>
<rect x="293.58" y="701.40" width="1.30" height="5.00" fill="#000"/>
<rect x="299.41" y="701.40" width="1.30" height="5.00" fill="#000"/>
<rect x="304.55" y="701.40" width="1.30" height="5.00" fill="#000"/>
<text x="199.90" y="726.20" font-size="15.5" font-family='"Liberation Sans", sans-serif' font-weight="normal" text-anchor="start" fill="#000" stroke="#000" stroke-width="0.3" textLength="12.20" lengthAdjust="spacingAndGlyphs" >10</text>
<text x="213.00" y="718.10" font-size="15" font-family='"Liberation Sans", sans-serif' font-weight="normal" text-anchor="start" fill="#000" stroke="#000" stroke-width="0.3" textLength="6.30" lengthAdjust="spacingAndGlyphs" >1</text>
<rect x="309.15" y="701.40" width="1.30" height="7.80" fill="#000"/>
<rect x="339.40" y="701.40" width="1.30" height="5.00" fill="#000"/>
<rect x="357.10" y="701.40" width="1.30" height="5.00" fill="#000"/>
<rect x="369.66" y="701.40" width="1.30" height="5.00" fill="#000"/>
<rect x="379.40" y="701.40" width="1.30" height="5.00" fill="#000"/>
<rect x="387.35" y="701.40" width="1.30" height="5.00" fill="#000"/>
<rect x="394.08" y="701.40" width="1.30" height="5.00" fill="#000"/>
<rect x="399.91" y="701.40" width="1.30" height="5.00" fill="#000"/>
<rect x="405.05" y="701.40" width="1.30" height="5.00" fill="#000"/>
<text x="300.40" y="726.20" font-size="15.5" font-family='"Liberation Sans", sans-serif' font-weight="normal" text-anchor="start" fill="#000" stroke="#000" stroke-width="0.3" textLength="12.20" lengthAdjust="spacingAndGlyphs" >10</text>
<text x="313.50" y="718.10" font-size="15" font-family='"Liberation Sans", sans-serif' font-weight="normal" text-anchor="start" fill="#000" stroke="#000" stroke-width="0.3" textLength="6.30" lengthAdjust="spacingAndGlyphs" >2</text>
<rect x="409.65" y="701.40" width="1.30" height="7.80" fill="#000"/>
<rect x="439.90" y="701.40" width="1.30" height="5.00" fill="#000"/>
<rect x="457.60" y="701.40" width="1.30" height="5.00" fill="#000"/>
<rect x="470.16" y="701.40" width="1.30" height="5.00" fill="#000"/>
<rect x="479.90" y="701.40" width="1.30" height="5.00" fill="#000"/>
<rect x="487.85" y="701.40" width="1.30" height="5.00" fill="#000"/>
<rect x="494.58" y="701.40" width="1.30" height="5.00" fill="#000"/>
<rect x="500.41" y="701.40" width="1.30" height="5.00" fill="#000"/>
<rect x="505.55" y="701.40" width="1.30" height="5.00" fill="#000"/>
<text x="400.90" y="726.20" font-size="15.5" font-family='"Liberation Sans", sans-serif' font-weight="normal" text-anchor="start" fill="#000" stroke="#000" stroke-width="0.3" textLength="12.20" lengthAdjust="spacingAndGlyphs" >10</text>
<text x="414.00" y="718.10" font-size="15" font-family='"Liberation Sans", sans-serif' font-weight="normal" text-anchor="start" fill="#000" stroke="#000" stroke-width="0.3" textLength="6.30" lengthAdjust="spacingAndGlyphs" >3</text>
<rect x="510.15" y="701.40" width="1.30" height="7.80" fill="#000"/>
<text x="501.40" y="726.20" font-size="15.5" font-family='"Liberation Sans", sans-serif' font-weight="normal" text-anchor="start" fill="#000" stroke="#000" stroke-width="0.3" textLength="12.20" lengthAdjust="spacingAndGlyphs" >10</text>
<text x="514.50" y="718.10" font-size="15" font-family='"Liberation Sans", sans-serif' font-weight="normal" text-anchor="start" fill="#000" stroke="#000" stroke-width="0.3" textLength="6.30" lengthAdjust="spacingAndGlyphs" >4</text>
<text x="292.30" y="740.40" font-size="14" font-family='"Liberation Sans", sans-serif' font-weight="normal" text-anchor="start" fill="#000" stroke="#000" stroke-width="0.25" textLength="31.90" lengthAdjust="spacingAndGlyphs" >CFSE</text>
<text x="112.80" y="552.20" font-size="37" font-family='"Liberation Sans", sans-serif' font-weight="bold" text-anchor="start" fill="#000" >C</text>
<text x="328.10" y="687.60" font-size="12" font-family='"Liberation Serif", serif' font-weight="normal" text-anchor="middle" fill="#000" >12</text>
<text x="336.95" y="668.60" font-size="12" font-family='"Liberation Serif", serif' font-weight="normal" text-anchor="middle" fill="#000" >11</text>
<text x="348.45" y="649.60" font-size="12" font-family='"Liberation Serif", serif' font-weight="normal" text-anchor="middle" fill="#000" >10</text>
<text x="371.10" y="631.50" font-size="12" font-family='"Liberation Serif", serif' font-weight="normal" text-anchor="middle" fill="#000" >9</text>
<text x="380.60" y="594.40" font-size="12" font-family='"Liberation Serif", serif' font-weight="normal" text-anchor="middle" fill="#000" >8</text>
<text x="399.00" y="594.40" font-size="12" font-family='"Liberation Serif", serif' font-weight="normal" text-anchor="middle" fill="#000" >7</text>
<text x="409.85" y="630.60" font-size="12" font-family='"Liberation Serif", serif' font-weight="normal" text-anchor="middle" fill="#000" >6</text>
<text x="428.35" y="630.60" font-size="12" font-family='"Liberation Serif", serif' font-weight="normal" text-anchor="middle" fill="#000" >5</text>
<text x="436.05" y="649.60" font-size="12" font-family='"Liberation Serif", serif' font-weight="normal" text-anchor="middle" fill="#000" >4</text>
<text x="454.25" y="649.60" font-size="12" font-family='"Liberation Serif", serif' font-weight="normal" text-anchor="middle" fill="#000" >3</text>
<text x="472.80" y="659.00" font-size="12" font-family='"Liberation Serif", serif' font-weight="normal" text-anchor="middle" fill="#000" >2</text>
<text x="491.20" y="668.30" font-size="12" font-family='"Liberation Serif", serif' font-weight="normal" text-anchor="middle" fill="#000" >1</text>
<text x="500.60" y="677.70" font-size="12" font-family='"Liberation Serif", serif' font-weight="normal" text-anchor="middle" fill="#000" >0</text>
</svg>
</body></html>
